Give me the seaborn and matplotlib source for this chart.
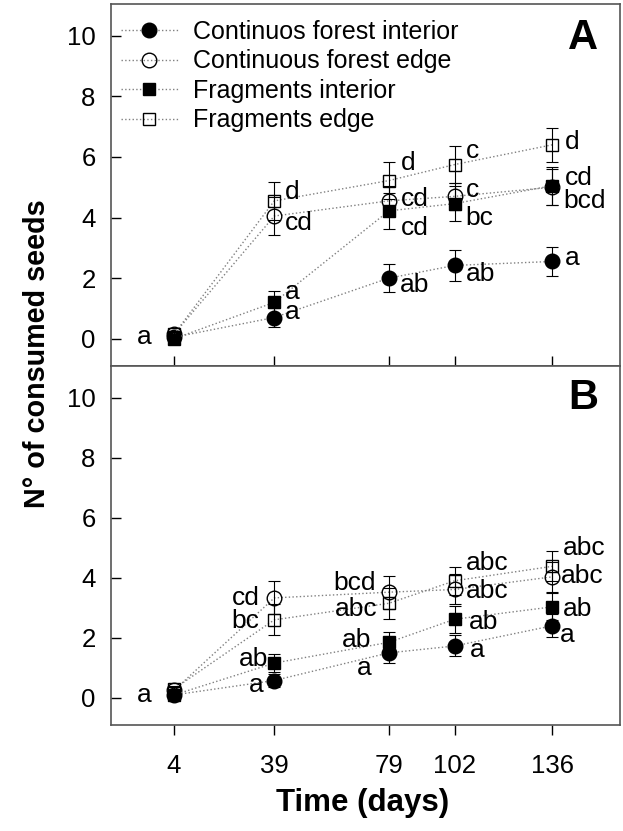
import matplotlib
matplotlib.use("Agg")
import matplotlib.pyplot as plt
import pandas as pd
import seaborn as sns

DAYS = [4, 39, 79, 102, 136]
GROUPS = ["Continuos forest interior", "Continuous forest edge",
          "Fragments interior", "Fragments edge"]

# panel A - mean consumed seeds and error
A_CFI = [0.05, 0.70, 2.00, 2.42, 2.55]
A_CFE = [0.15, 4.05, 4.55, 4.70, 5.00]
A_FI = [0.00, 1.20, 4.22, 4.46, 5.05]
A_FE = [0.15, 4.55, 5.22, 5.75, 6.40]
A_CFI_ERR = [0.08, 0.30, 0.47, 0.50, 0.48]
A_CFE_ERR = [0.10, 0.63, 0.50, 0.45, 0.60]
A_FI_ERR = [0.06, 0.37, 0.60, 0.58, 0.62]
A_FE_ERR = [0.10, 0.63, 0.60, 0.60, 0.57]
A_CFI_LET = ["a", "a", "ab", "ab", "a"]
A_CFE_LET = ["", "cd", "cd", "c", "cd"]
A_FI_LET = ["", "a", "cd", "bc", "bcd"]
A_FE_LET = ["", "d", "d", "c", "d"]

# panel B
B_CFI = [0.10, 0.58, 1.50, 1.73, 2.40]
B_CFE = [0.25, 3.33, 3.52, 3.61, 4.03]
B_FI = [0.10, 1.16, 1.85, 2.62, 3.03]
B_FE = [0.30, 2.60, 3.15, 3.90, 4.38]
B_CFI_ERR = [0.06, 0.20, 0.33, 0.35, 0.38]
B_CFE_ERR = [0.10, 0.55, 0.55, 0.50, 0.50]
B_FI_ERR = [0.06, 0.30, 0.35, 0.45, 0.45]
B_FE_ERR = [0.10, 0.52, 0.52, 0.47, 0.50]
B_CFI_LET = ["a", "a", "a", "a", "a"]
B_CFE_LET = ["", "cd", "bcd", "abc", "abc"]
B_FI_LET = ["", "ab", "ab", "ab", "ab"]
B_FE_LET = ["", "bc", "abc", "abc", "abc"]

# letter offsets in pixels (dx, dy) relative to the point
A_OFFS = [
    [(-22, 0), (11, 6), (11, -7), (11, -9), (13, 3)],
    [None, (11, -7), (12, 2), (11, 6), (13, 9)],
    [None, (11, 10), (12, -17), (11, -14), (11, -15)],
    [None, (11, 9), (12, 18), (11, 14), (13, 3)],
]
B_OFFS = [
    [(-22, 0), (-11, -4), (-17, -15), (15, -4), (8, -9)],
    [None, (-15, 0), (-13, 9), (11, -2), (9, 1)],
    [None, (-6, 4), (-18, 2), (14, -3), (11, -2)],
    [None, (-15, -1), (-11, -6), (11, 18), (11, 18)],
]

MARKERS = [("o", "black", 10.5), ("o", "none", 10.5), ("s", "black", 8.5), ("s", "none", 9)]


def build_frame(means, errs, letters):
    rows = []
    for g, m, e, l in zip(GROUPS, means, errs, letters):
        for d, mv, ev, lv in zip(DAYS, m, e, l):
            rows.append({"group": g, "day": d, "mean": mv, "se": ev, "letter": lv})
    return pd.DataFrame(rows)


def draw_panel(ax, df, offsets):
    handles = []
    for gi, (g, (mk, face, ms)) in enumerate(zip(GROUPS, MARKERS)):
        sub = df[df["group"] == g]
        sns.lineplot(data=sub, x="day", y="mean", ax=ax, color="#808080", linestyle=":",
                     linewidth=1, marker=mk, markersize=ms, mfc=face, mec="black", mew=1,
                     errorbar=None, legend=False, zorder=2)
        handles.append(ax.lines[-1])
        ax.errorbar(sub["day"], sub["mean"], yerr=sub["se"], fmt="none", ecolor="black",
                    elinewidth=0.8, capsize=4, capthick=0.8, zorder=3)
        for (d, mv, lv), off in zip(sub[["day", "mean", "letter"]].values, offsets[gi]):
            if not lv or off is None:
                continue
            ax.annotate(lv, (d, mv), xytext=off, textcoords="offset pixels",
                        ha="right" if off[0] < 0 else "left", va="center", fontsize=19)
    ax.set_xlim(-18, 159.7)
    ax.set_ylim(-0.9, 11.05)
    ax.set_xticks(DAYS)
    ax.set_yticks(range(0, 11, 2))
    ax.set_xlabel("")
    ax.set_ylabel("")
    for sp in ax.spines.values():
        sp.set_visible(True)
        sp.set_color("#555555")
        sp.set_linewidth(1.2)
    ax.tick_params(axis="y", direction="in", length=7, width=1, labelsize=18.5, pad=11)
    return handles


sns.set_style("ticks")
plt.rcParams["font.family"] = ["Liberation Sans", "DejaVu Sans"]
plt.rcParams.update({"text.color": "black", "axes.labelcolor": "black",
                     "xtick.color": "black", "ytick.color": "black"})

fig = plt.figure(figsize=(6.23, 8.31), dpi=100)
ax_a = fig.add_axes([0.1782, 0.5596, 0.8170, 0.4356])
ax_b = fig.add_axes([0.1782, 0.1276, 0.8170, 0.4320])

df_a = build_frame([A_CFI, A_CFE, A_FI, A_FE], [A_CFI_ERR, A_CFE_ERR, A_FI_ERR, A_FE_ERR],
                   [A_CFI_LET, A_CFE_LET, A_FI_LET, A_FE_LET])
df_b = build_frame([B_CFI, B_CFE, B_FI, B_FE], [B_CFI_ERR, B_CFE_ERR, B_FI_ERR, B_FE_ERR],
                   [B_CFI_LET, B_CFE_LET, B_FI_LET, B_FE_LET])

handles = draw_panel(ax_a, df_a, A_OFFS)
draw_panel(ax_b, df_b, B_OFFS)

ax_a.tick_params(axis="x", direction="in", length=7, width=1, labelbottom=False)
ax_b.tick_params(axis="x", direction="out", length=7, width=1, labelsize=18.5, pad=14)

ax_a.legend(handles, GROUPS, loc="upper left", bbox_to_anchor=(0.0196, 0.956), frameon=False,
            borderpad=0, borderaxespad=0, handlelength=2.28, handletextpad=0.6,
            labelspacing=0.22, fontsize=18)

ax_a.text(0.927, 0.906, "A", transform=ax_a.transAxes, ha="center", va="center",
          fontsize=30, fontweight="bold")
ax_b.text(0.927, 0.911, "B", transform=ax_b.transAxes, ha="center", va="center",
          fontsize=30, fontweight="bold")

fig.text(37 / 623, 1 - 354 / 831, "N° of consumed seeds", rotation=90, ha="center",
         va="center", fontsize=20.7, fontweight="bold")
fig.text(363 / 623, 1 - 803 / 831, "Time (days)", ha="center", va="center",
         fontsize=22.5, fontweight="bold")

fig.savefig("out.png", dpi=100)
